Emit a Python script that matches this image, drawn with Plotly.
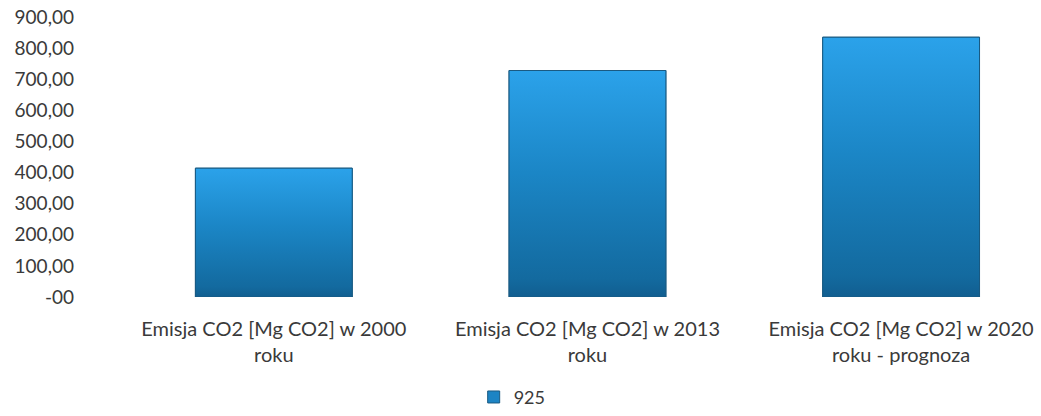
import plotly.graph_objects as go

categories = [
    "Emisja CO2 [Mg CO2] w 2000<br>roku",
    "Emisja CO2 [Mg CO2] w 2013<br>roku",
    "Emisja CO2 [Mg CO2] w 2020<br>roku - prognoza",
]
values = [414.0, 728.0, 835.0]
series_name = "925"
tick_values = [0, 100, 200, 300, 400, 500, 600, 700, 800, 900]
tick_labels = ["-00", "100,00", "200,00", "300,00", "400,00", "500,00",
               "600,00", "700,00", "800,00", "900,00"]

BAR_WIDTH = 0.5
GRADIENT = [[0.0, "#115e90"], [0.08, "#136a9f"], [0.55, "#1b86c6"], [1.0, "#2ba2ea"]]

fig = go.Figure()

# base bar series (carries the values and the legend entry)
fig.add_trace(go.Bar(
    x=list(range(len(categories))),
    y=values,
    width=BAR_WIDTH,
    name=series_name,
    marker=dict(color="#1d84c4", line=dict(color="#1a5a82", width=1)),
    hoverinfo="skip",
))

# vertical gradient painted over each bar
for i, val in enumerate(values):
    x0, x1 = i - BAR_WIDTH / 2, i + BAR_WIDTH / 2
    fig.add_trace(go.Scatter(
        x=[x0, x1, x1, x0, x0],
        y=[0, 0, val, val, 0],
        mode="lines",
        fill="toself",
        fillgradient=dict(type="vertical", colorscale=GRADIENT),
        line=dict(color="#1a5a82", width=1),
        showlegend=False,
        hoverinfo="skip",
    ))

fig.update_layout(
    width=1041, height=416,
    margin=dict(l=117, r=0, t=17, b=119),
    paper_bgcolor="white",
    plot_bgcolor="white",
    font=dict(family="Lato, 'Open Sans', sans-serif", color="#3a3a3a"),
    xaxis=dict(
        range=[-0.5, 2.446],
        tickvals=list(range(len(categories))),
        ticktext=categories,
        tickfont=dict(size=20, color="#3a3a3a"),
        showgrid=False, zeroline=False, showline=False, ticks="",
        ticklabelstandoff=18,
    ),
    yaxis=dict(
        range=[0, 900],
        tickvals=tick_values,
        ticktext=tick_labels,
        tickfont=dict(size=19, color="#3a3a3a"),
        showgrid=False, zeroline=False, showline=False, ticks="",
        ticklabelstandoff=42,
    ),
    legend=dict(
        orientation="h",
        xref="container", yref="container",
        x=0.492, xanchor="center",
        y=0.045, yanchor="middle",
        font=dict(size=18, color="#3a3a3a"),
        itemwidth=30,
    ),
)

fig.write_html("out.html")
